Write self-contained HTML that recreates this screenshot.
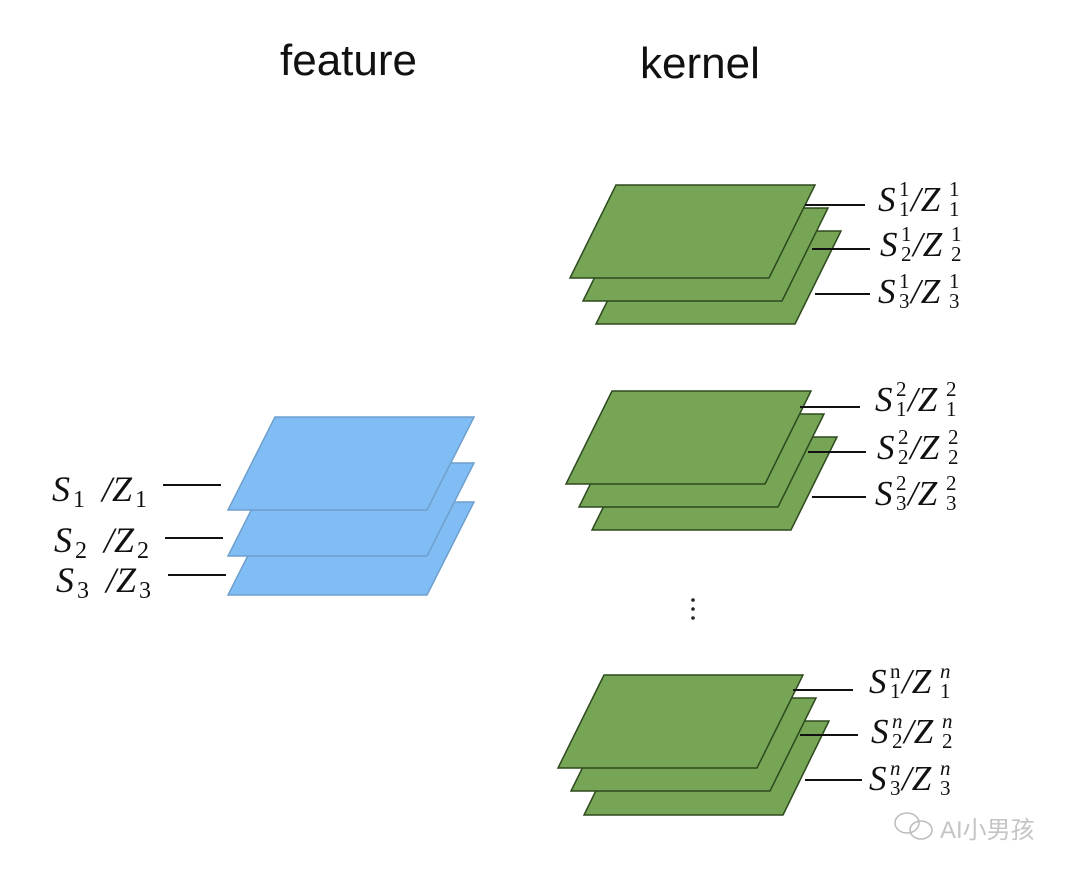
<!DOCTYPE html>
<html><head><meta charset="utf-8"><style>
html,body{margin:0;padding:0;background:#fff;}
svg{display:block}
.t{font-family:"Liberation Sans",sans-serif;font-size:44px;fill:#111}
.m{font-family:"Liberation Serif",serif;font-style:italic;fill:#111}
.n{font-family:"Liberation Serif",serif;fill:#111}
</style></head><body>
<svg width="1080" height="874" viewBox="0 0 1080 874" xmlns="http://www.w3.org/2000/svg">
<text class="t" x="280" y="75">feature</text>
<text class="t" x="640" y="78">kernel</text>

<g fill="#80bdf4" stroke="#6f9fcc" stroke-width="1.5">
<polygon points="275,502 474,502 427,595 228,595"/>
<polygon points="275,463 474,463 427,556 228,556"/>
<polygon points="275,417 474,417 427,510 228,510"/>
</g>
<g stroke="#111" stroke-width="2">
<line x1="163" y1="485" x2="221" y2="485"/>
<line x1="165" y1="538" x2="223" y2="538"/>
<line x1="168" y1="575" x2="226" y2="575"/>
</g>
<g>
<text class="m" font-size="36" x="52" y="501">S</text><text class="n" font-size="24" x="73" y="507">1</text><text class="m" font-size="36" x="102" y="501">/Z</text><text class="n" font-size="24" x="135" y="507">1</text>
<text class="m" font-size="36" x="54" y="552">S</text><text class="n" font-size="24" x="75" y="558">2</text><text class="m" font-size="36" x="104" y="552">/Z</text><text class="n" font-size="24" x="137" y="558">2</text>
<text class="m" font-size="36" x="56" y="592">S</text><text class="n" font-size="24" x="77" y="598">3</text><text class="m" font-size="36" x="106" y="592">/Z</text><text class="n" font-size="24" x="139" y="598">3</text>
</g>

<g fill="#76a556" stroke="#2d4a1f" stroke-width="1.5">
<polygon points="642,231 841,231 795,324 596,324"/>
<polygon points="629,208 828,208 782,301 583,301"/>
<polygon points="616,185 815,185 769,278 570,278"/>
<polygon points="638,437 837,437 791,530 592,530"/>
<polygon points="625,414 824,414 778,507 579,507"/>
<polygon points="612,391 811,391 765,484 566,484"/>
<polygon points="630,721 829,721 783,815 584,815"/>
<polygon points="617,698 816,698 770,791 571,791"/>
<polygon points="604,675 803,675 757,768 558,768"/>
</g>
<g stroke="#111" stroke-width="2">
<line x1="805" y1="205" x2="865" y2="205"/>
<line x1="812" y1="249" x2="870" y2="249"/>
<line x1="815" y1="294" x2="870" y2="294"/>
<line x1="800" y1="407" x2="860" y2="407"/>
<line x1="808" y1="452" x2="866" y2="452"/>
<line x1="812" y1="497" x2="866" y2="497"/>
<line x1="793" y1="690" x2="853" y2="690"/>
<line x1="800" y1="735" x2="858" y2="735"/>
<line x1="805" y1="780" x2="862" y2="780"/>
</g>
<g>
<text class="m" font-size="35" x="878" y="211">S</text><text class="n" font-size="21" x="899" y="196">1</text><text class="n" font-size="21" x="899" y="216">1</text><text class="m" font-size="35" x="911" y="211">/Z</text><text class="n" font-size="21" x="949" y="196">1</text><text class="n" font-size="21" x="949" y="216">1</text>
<text class="m" font-size="35" x="880" y="256">S</text><text class="n" font-size="21" x="901" y="241">1</text><text class="n" font-size="21" x="901" y="261">2</text><text class="m" font-size="35" x="913" y="256">/Z</text><text class="n" font-size="21" x="951" y="241">1</text><text class="n" font-size="21" x="951" y="261">2</text>
<text class="m" font-size="35" x="878" y="303">S</text><text class="n" font-size="21" x="899" y="288">1</text><text class="n" font-size="21" x="899" y="308">3</text><text class="m" font-size="35" x="911" y="303">/Z</text><text class="n" font-size="21" x="949" y="288">1</text><text class="n" font-size="21" x="949" y="308">3</text>

<text class="m" font-size="35" x="875" y="411">S</text><text class="n" font-size="21" x="896" y="396">2</text><text class="n" font-size="21" x="896" y="416">1</text><text class="m" font-size="35" x="908" y="411">/Z</text><text class="n" font-size="21" x="946" y="396">2</text><text class="n" font-size="21" x="946" y="416">1</text>
<text class="m" font-size="35" x="877" y="459">S</text><text class="n" font-size="21" x="898" y="444">2</text><text class="n" font-size="21" x="898" y="464">2</text><text class="m" font-size="35" x="910" y="459">/Z</text><text class="n" font-size="21" x="948" y="444">2</text><text class="n" font-size="21" x="948" y="464">2</text>
<text class="m" font-size="35" x="875" y="505">S</text><text class="n" font-size="21" x="896" y="490">2</text><text class="n" font-size="21" x="896" y="510">3</text><text class="m" font-size="35" x="908" y="505">/Z</text><text class="n" font-size="21" x="946" y="490">2</text><text class="n" font-size="21" x="946" y="510">3</text>

<text class="m" font-size="35" x="869" y="693">S</text><text class="n" font-size="21" x="890" y="678">n</text><text class="n" font-size="21" x="890" y="698">1</text><text class="m" font-size="35" x="902" y="693">/Z</text><text class="m" font-size="21" x="940" y="678">n</text><text class="n" font-size="21" x="940" y="698">1</text>
<text class="m" font-size="35" x="871" y="743">S</text><text class="m" font-size="21" x="892" y="728">n</text><text class="n" font-size="21" x="892" y="748">2</text><text class="m" font-size="35" x="904" y="743">/Z</text><text class="m" font-size="21" x="942" y="728">n</text><text class="n" font-size="21" x="942" y="748">2</text>
<text class="m" font-size="35" x="869" y="790">S</text><text class="m" font-size="21" x="890" y="775">n</text><text class="n" font-size="21" x="890" y="795">3</text><text class="m" font-size="35" x="902" y="790">/Z</text><text class="m" font-size="21" x="940" y="775">n</text><text class="n" font-size="21" x="940" y="795">3</text>
</g>

<g fill="#222">
<circle cx="693" cy="600" r="1.8"/><circle cx="693" cy="609" r="1.8"/><circle cx="693" cy="618" r="1.8"/>
</g>

<g fill="none" stroke="#bbb" stroke-width="1.5">
<ellipse cx="907" cy="823" rx="12" ry="10"/>
<ellipse cx="921" cy="830" rx="11" ry="9"/>
</g>
<text x="940" y="838" font-family="'Liberation Sans','Noto Sans CJK SC',sans-serif" font-size="24" fill="#c4c4c4">AI小男孩</text>
</svg>
</body></html>
